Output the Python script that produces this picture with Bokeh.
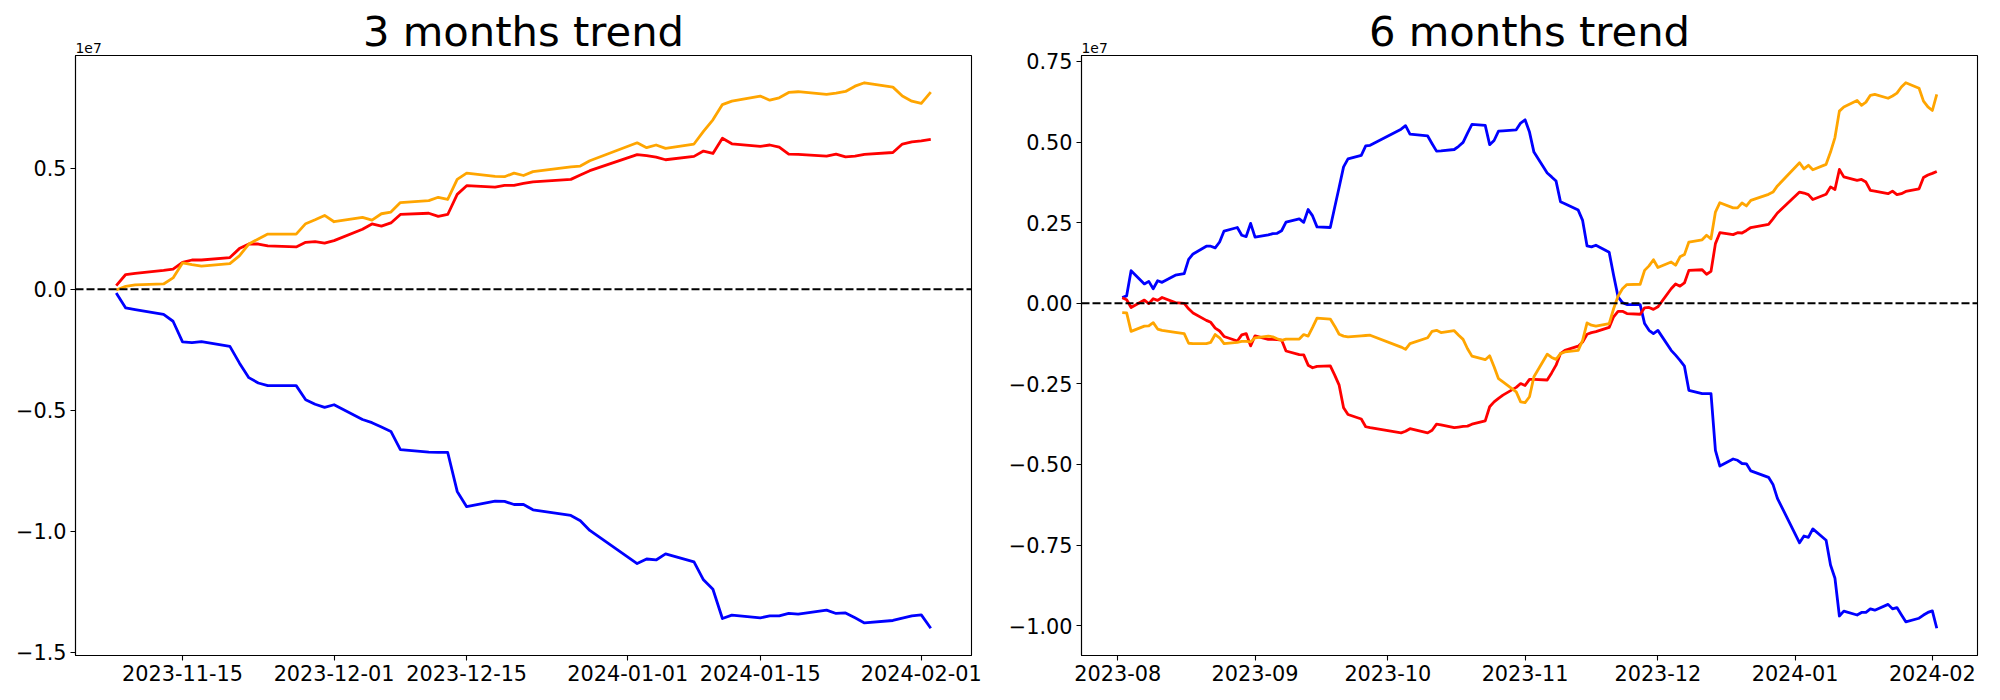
import numpy as np
import pandas as pd
from bokeh.plotting import figure
from bokeh.layouts import row
from bokeh.models import (Span, Title, FixedTicker, CustomJSTickFormatter, Range1d,
                          ColumnDataSource)
from bokeh.embed import file_html
from bokeh.resources import INLINE

SCALE = 1e7
START_6M = "2023-08-02"
START_3M = "2023-11-08"
END = "2024-02-02"
HOLIDAYS = ["2023-08-15", "2023-09-28", "2023-09-29", "2023-10-02", "2023-10-03",
            "2023-10-09", "2023-12-25", "2023-12-29", "2024-01-01"]

days_6m = pd.bdate_range(START_6M, END).difference(pd.DatetimeIndex(HOLIDAYS))
days_3m = days_6m[days_6m >= pd.Timestamp(START_3M)]

# ---- 3 months (values in units of 1e7) ----
blue_3m = [
    -0.015, -0.077, -0.084, -0.104, -0.132, -0.217, -0.220, -0.216, -0.236, -0.304, -0.365, -0.387, -0.398, -0.398, -0.456, -0.475, -0.488,
    -0.477, -0.538, -0.551, -0.569, -0.587, -0.662, -0.673, -0.674, -0.674, -0.835, -0.898, -0.875, -0.876, -0.889, -0.889, -0.911, -0.934, -0.956, -0.996,
    -1.133, -1.114, -1.118, -1.093, -1.126, -1.200, -1.239, -1.360, -1.346, -1.357, -1.349, -1.349, -1.339, -1.342, -1.325, -1.339, -1.337, -1.357, -1.378, -1.368, -1.358, -1.349,
    -1.345, -1.400]
red_3m = [
    0.015, 0.061, 0.066, 0.078, 0.083, 0.111, 0.121, 0.121, 0.131, 0.168, 0.187, 0.187, 0.179, 0.175, 0.194, 0.197, 0.191,
    0.201, 0.248, 0.270, 0.261, 0.274, 0.309, 0.314, 0.301, 0.309, 0.392, 0.428, 0.422, 0.429, 0.429, 0.437, 0.444, 0.454, 0.472, 0.490,
    0.556, 0.552, 0.546, 0.535, 0.549, 0.571, 0.561, 0.624, 0.601, 0.590, 0.596, 0.587, 0.558, 0.557, 0.550, 0.558, 0.547, 0.550, 0.557, 0.565, 0.600, 0.609,
    0.613, 0.619]
orange_3m = [
    -0.003, 0.012, 0.018, 0.022, 0.047, 0.109, 0.102, 0.096, 0.106, 0.138, 0.187, 0.208, 0.228, 0.228, 0.271, 0.287, 0.305,
    0.279, 0.297, 0.286, 0.312, 0.319, 0.358, 0.366, 0.380, 0.371, 0.454, 0.480, 0.466, 0.465, 0.480, 0.470, 0.486, 0.506, 0.509, 0.531,
    0.605, 0.585, 0.596, 0.582, 0.600, 0.652, 0.700, 0.763, 0.777, 0.798, 0.781, 0.791, 0.813, 0.816, 0.805, 0.810, 0.817, 0.839, 0.853, 0.835, 0.798, 0.777,
    0.768, 0.814]

# ---- 6 months (values in units of 1e7) ----
blue_6m = [
    0.018, 0.023, 0.101, 0.060, 0.068, 0.045, 0.070, 0.065, 0.087, 0.092, 0.136, 0.153, 0.177, 0.177, 0.172, 0.190, 0.224, 0.235, 0.211, 0.207, 0.248,
    0.205, 0.212, 0.216, 0.217, 0.225, 0.252, 0.262, 0.251, 0.291, 0.271, 0.237, 0.235, 0.298, 0.360, 0.423, 0.448, 0.459, 0.488, 0.490,
    0.540, 0.551, 0.525, 0.519, 0.495, 0.472, 0.473, 0.477, 0.487, 0.499, 0.528, 0.555, 0.552, 0.492, 0.505, 0.534, 0.535, 0.538, 0.559,
    0.569, 0.531, 0.469, 0.404, 0.392, 0.379, 0.315, 0.309, 0.289, 0.257, 0.178, 0.175, 0.180, 0.158, 0.087, 0.020, 0.002, -0.004, -0.004, -0.063, -0.084, -0.094,
    -0.084, -0.146, -0.161, -0.177, -0.195, -0.270, -0.280, -0.280, -0.280, -0.456, -0.505, -0.483, -0.487, -0.497, -0.498, -0.520, -0.540, -0.562, -0.605,
    -0.743, -0.722, -0.726, -0.700, -0.735, -0.812, -0.853, -0.970, -0.955, -0.967, -0.959, -0.959, -0.948, -0.952, -0.934, -0.948, -0.944, -0.966, -0.988, -0.977, -0.967, -0.959,
    -0.954, -1.008]
red_6m = [
    0.017, 0.011, -0.013, 0.010, -0.001, 0.014, 0.009, 0.018, 0.002, 0.000, -0.017, -0.030, -0.053, -0.059, -0.077, -0.086, -0.103, -0.117, -0.098, -0.094, -0.132,
    -0.101, -0.112, -0.112, -0.113, -0.114, -0.148, -0.159, -0.160, -0.192, -0.200, -0.196, -0.194, -0.223, -0.254, -0.324, -0.345, -0.359, -0.383, -0.386,
    -0.402, -0.397, -0.389, -0.402, -0.394, -0.375, -0.377, -0.386, -0.384, -0.382, -0.381, -0.375, -0.365, -0.321, -0.306, -0.295, -0.285, -0.261, -0.249,
    -0.255, -0.236, -0.236, -0.238, -0.216, -0.192, -0.156, -0.146, -0.133, -0.120, -0.096, -0.091, -0.088, -0.075, -0.042, -0.025, -0.025, -0.032, -0.034, -0.014, -0.013, -0.019,
    -0.011, 0.045, 0.060, 0.053, 0.063, 0.102, 0.104, 0.090, 0.099, 0.185, 0.219, 0.213, 0.219, 0.218, 0.226, 0.235, 0.245, 0.262, 0.280,
    0.345, 0.342, 0.337, 0.322, 0.338, 0.361, 0.353, 0.415, 0.392, 0.381, 0.384, 0.376, 0.350, 0.348, 0.340, 0.348, 0.337, 0.340, 0.347, 0.355, 0.390, 0.398,
    0.403, 0.409]
orange_6m = [
    -0.029, -0.030, -0.087, -0.071, -0.070, -0.060, -0.080, -0.084, -0.090, -0.094, -0.124, -0.125, -0.125, -0.121, -0.097, -0.107, -0.125, -0.121, -0.118, -0.118, -0.120,
    -0.107, -0.102, -0.104, -0.110, -0.115, -0.111, -0.111, -0.097, -0.102, -0.075, -0.046, -0.049, -0.071, -0.096, -0.102, -0.104, -0.101, -0.100, -0.099,
    -0.136, -0.143, -0.125, -0.107, -0.087, -0.084, -0.091, -0.085, -0.099, -0.112, -0.141, -0.164, -0.175, -0.163, -0.197, -0.234, -0.244, -0.275, -0.306,
    -0.308, -0.290, -0.228, -0.158, -0.168, -0.174, -0.156, -0.151, -0.146, -0.115, -0.061, -0.068, -0.071, -0.063, -0.017, 0.022, 0.045, 0.058, 0.059, 0.102, 0.116, 0.135,
    0.111, 0.128, 0.118, 0.144, 0.151, 0.190, 0.197, 0.211, 0.200, 0.283, 0.312, 0.296, 0.296, 0.311, 0.302, 0.319, 0.338, 0.345, 0.364,
    0.436, 0.417, 0.428, 0.414, 0.431, 0.469, 0.514, 0.596, 0.609, 0.629, 0.614, 0.624, 0.645, 0.648, 0.636, 0.643, 0.652, 0.671, 0.684, 0.667, 0.627, 0.609,
    0.598, 0.648]

X_TICKS_3M = ["2023-11-15", "2023-12-01", "2023-12-15", "2024-01-01", "2024-01-15", "2024-02-01"]
X_TICKS_6M = ["2023-08-01", "2023-09-01", "2023-10-01", "2023-11-01", "2023-12-01", "2024-01-01", "2024-02-01"]
Y_TICKS_3M = [-1.5, -1.0, -0.5, 0.0, 0.5]
Y_TICKS_6M = [-1.0, -0.75, -0.5, -0.25, 0.0, 0.25, 0.5, 0.75]

COLORS = {"blue": "blue", "red": "red", "orange": "orange"}
FONT = "DejaVu Sans"


def ms(t):
    return pd.Timestamp(t).value / 1e6


def make(title, dates, series, xticks, yticks, ydigits, xfmt_len, width, bl, br):
    allv = np.concatenate([np.asarray(v) for _, v in series])
    lo, hi = allv.min(), allv.max()
    pad = 0.05 * (hi - lo)
    x0, x1 = ms(dates[0]), ms(dates[-1])
    xpad = 0.05 * (x1 - x0)
    y_start, y_end = (lo - pad) * SCALE, (hi + pad) * SCALE
    p = figure(width=width, height=700, x_axis_type="datetime", title=None,
               output_backend="svg", toolbar_location=None,
               x_range=Range1d(x0 - xpad, x1 + xpad),
               y_range=Range1d(y_start, y_end),
               min_border_left=bl, min_border_right=br,
               min_border_top=55, min_border_bottom=45)
    p.background_fill_color = "white"
    p.border_fill_color = "white"
    p.outline_line_color = "black"
    p.outline_line_width = 1.1
    p.outline_line_alpha = 1.0
    p.xgrid.grid_line_color = None
    p.ygrid.grid_line_color = None

    p.add_layout(Span(location=0, dimension="width", line_color="black",
                      line_dash="8 3", line_width=2.1))
    for name, vals in series:
        src = ColumnDataSource(dict(x=dates, y=np.asarray(vals) * SCALE))
        p.line("x", "y", source=src, line_color=COLORS[name], line_width=2.8,
               line_join="round")

    for ax in (p.xaxis[0], p.yaxis[0]):
        ax.minor_tick_line_color = None
        ax.major_tick_out = 5
        ax.major_tick_in = 0
        ax.major_tick_line_width = 1.1
        ax.axis_line_width = 1.1
        ax.major_label_text_font = FONT
        ax.major_label_text_font_size = "20.8px"
        ax.major_label_text_color = "black"
        ax.major_label_standoff = 4
    p.xaxis[0].ticker = FixedTicker(ticks=[ms(t) for t in xticks])
    p.xaxis[0].formatter = CustomJSTickFormatter(
        code=f"return new Date(tick).toISOString().slice(0, {xfmt_len});")
    p.yaxis[0].ticker = FixedTicker(ticks=[v * SCALE for v in yticks])
    p.yaxis[0].formatter = CustomJSTickFormatter(
        code=f"return (tick / 1e7).toFixed({ydigits}).replace('-', '\\u2212');")

    # offset text (closest to the frame), then the main title
    p.add_layout(Title(text="1e7", align="left", vertical_align="bottom",
                       text_baseline="alphabetic", standoff=6,
                       text_font=FONT, text_font_size="13.9px",
                       text_font_style="normal", text_color="black"), "above")
    p.add_layout(Title(text=title, align="center", vertical_align="bottom",
                       text_baseline="alphabetic", standoff=-36,
                       text_font=FONT, text_font_size="41.7px",
                       text_font_style="normal", text_color="black"), "above")
    return p


p1 = make("3 months trend", days_3m,
          [("blue", blue_3m), ("red", red_3m), ("orange", orange_3m)],
          X_TICKS_3M, Y_TICKS_3M, 1, 10, 1003, 75, 32)
p2 = make("6 months trend", days_6m,
          [("blue", blue_6m), ("red", red_6m), ("orange", orange_6m)],
          X_TICKS_6M, Y_TICKS_6M, 2, 7, 997, 78, 23)

layout = row(p1, p2)
open("out.html", "w").write(file_html(layout, INLINE))
